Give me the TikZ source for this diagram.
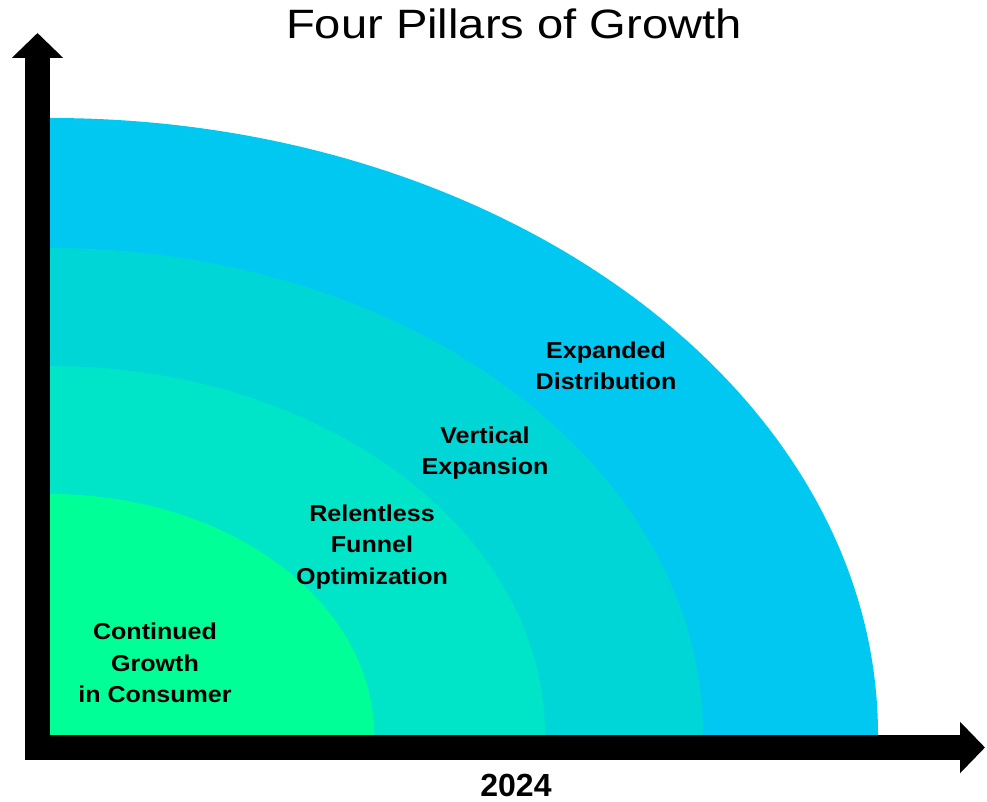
\documentclass[tikz,border=0pt]{standalone}
\usepackage{fontspec}
\setmainfont{Liberation Sans}
\newfontfamily\pillarfont{Liberation Sans}[FakeStretch=1.09]
\newfontfamily\headfont{Liberation Sans}[FakeStretch=1.15]
\usetikzlibrary{arrows.meta}
\definecolor{ringA}{RGB}{0,255,150}
\definecolor{ringB}{RGB}{0,228,200}
\definecolor{ringC}{RGB}{0,214,214}
\definecolor{ringD}{RGB}{0,200,240}
\tikzset{%
axisarrow/.style={line width=25pt,-{Triangle[length=25pt,width=50pt]}},
pillar/.style={align=center,font=\pillarfont\fontsize{23}{31.5}\selectfont\bfseries},
heading/.style={font=\headfont\fontsize{41}{48}\selectfont},
yearlabel/.style={font=\fontsize{32}{36}\selectfont\bfseries,inner sep=0pt,anchor=base}
}

\begin{document}
\begin{tikzpicture}[x=1pt,y=1pt]
\useasboundingbox (0,0) rectangle (987,801);
\coordinate (O) at (50,66);
%%
\foreach \col/\rx/\ry in {ringD/828/617,
                          ringC/653/487,
                          ringB/495/369,
                          ringA/324/241}
     \fill[\col] (O) -- ++(\rx,0) arc[start angle=0,end angle=90,x radius=\rx,y radius=\ry] -- cycle;
%%
\coordinate (ybot) at (37.5,41);
\coordinate (ytip) at (37.5,768);
\coordinate (xbot) at (25,53.5);
\coordinate (xtip) at (985,53.5);
\draw[axisarrow] (ybot) -- (ytip);
\draw[axisarrow] (xbot) -- (xtip);
%%
\node[heading]   (title) at (514,777) {Four Pillars of Growth};
\node[yearlabel] (year)  at (516,5)   {2024};
%%
\node[pillar] (consumer) at (155,138) {Continued\\Growth\\in Consumer};
\node[pillar] (funnel)   at (372,254) {Relentless\\Funnel\\Optimization};
\node[pillar] (vertical) at (485,348) {Vertical\\Expansion};
\node[pillar] (distrib)  at (606,435) {Expanded\\Distribution};
\end{tikzpicture}
\end{document}
